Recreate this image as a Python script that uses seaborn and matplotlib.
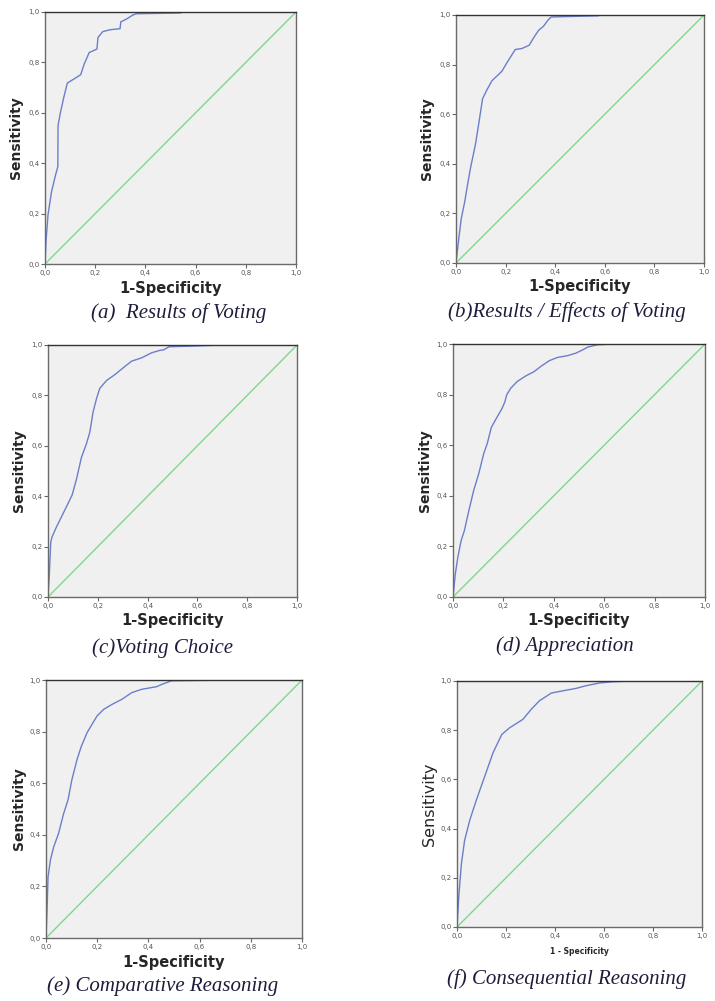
import numpy as np
import pandas as pd
import seaborn as sns
import matplotlib.pyplot as plt

# ROC curves (1-specificity, sensitivity)
fpr_a = [0, 0.004, 0.012, 0.026, 0.042, 0.051, 0.052, 0.062, 0.075, 0.089, 0.115, 0.142, 0.156,
         0.176, 0.207, 0.211, 0.23, 0.256, 0.299, 0.302, 0.323, 0.35, 0.364, 0.538, 0.55, 1.0]
tpr_a = [0, 0.09, 0.195, 0.287, 0.353, 0.386, 0.55, 0.603, 0.662, 0.718, 0.734, 0.751, 0.793,
         0.839, 0.853, 0.899, 0.922, 0.929, 0.934, 0.961, 0.971, 0.988, 0.993, 0.996, 1.0, 1.0]

fpr_b = [0, 0.011, 0.021, 0.035, 0.044, 0.058, 0.078, 0.091, 0.107, 0.125, 0.145, 0.185, 0.205,
         0.239, 0.266, 0.295, 0.313, 0.333, 0.353, 0.373, 0.384, 0.575, 0.58, 1.0]
tpr_b = [0, 0.097, 0.178, 0.246, 0.3, 0.381, 0.476, 0.557, 0.662, 0.699, 0.735, 0.773, 0.807,
         0.861, 0.865, 0.878, 0.908, 0.938, 0.955, 0.982, 0.992, 0.997, 1.0, 1.0]

fpr_c = [0, 0.005, 0.011, 0.016, 0.034, 0.054, 0.074, 0.097, 0.114, 0.134, 0.154, 0.168, 0.181,
         0.195, 0.208, 0.235, 0.268, 0.309, 0.336, 0.376, 0.416, 0.45, 0.463, 0.486, 0.59, 0.67,
         0.72, 1.0]
tpr_c = [0, 0.083, 0.217, 0.238, 0.278, 0.318, 0.358, 0.405, 0.466, 0.553, 0.607, 0.654, 0.734,
         0.788, 0.828, 0.859, 0.882, 0.915, 0.936, 0.949, 0.969, 0.979, 0.98, 0.993, 0.996, 0.999,
         1.0, 1.0]

fpr_d = [0, 0.009, 0.019, 0.032, 0.045, 0.063, 0.082, 0.102, 0.122, 0.136, 0.152, 0.168, 0.195,
         0.206, 0.213, 0.229, 0.255, 0.289, 0.322, 0.348, 0.382, 0.415, 0.455, 0.488, 0.515, 0.535,
         0.574, 0.641, 1.0]
tpr_d = [0, 0.09, 0.156, 0.222, 0.262, 0.342, 0.421, 0.487, 0.567, 0.607, 0.67, 0.699, 0.746,
         0.772, 0.799, 0.825, 0.852, 0.874, 0.891, 0.911, 0.934, 0.947, 0.954, 0.964, 0.977, 0.988,
         0.997, 1.0, 1.0]

fpr_e = [0, 0.004, 0.008, 0.017, 0.03, 0.049, 0.069, 0.086, 0.101, 0.121, 0.138, 0.16, 0.179,
         0.199, 0.225, 0.257, 0.296, 0.335, 0.374, 0.432, 0.452, 0.491, 0.66, 0.67, 1.0]
tpr_e = [0, 0.106, 0.236, 0.301, 0.353, 0.405, 0.483, 0.535, 0.613, 0.691, 0.743, 0.795, 0.827,
         0.86, 0.886, 0.905, 0.925, 0.951, 0.964, 0.974, 0.983, 0.997, 0.999, 1.0, 1.0]

fpr_f = [0, 0.008, 0.018, 0.031, 0.052, 0.079, 0.113, 0.147, 0.183, 0.215, 0.269, 0.303, 0.337,
         0.385, 0.432, 0.486, 0.527, 0.582, 0.636, 0.717, 1.0]
tpr_f = [0, 0.134, 0.257, 0.352, 0.434, 0.516, 0.612, 0.708, 0.783, 0.81, 0.844, 0.885, 0.92,
         0.951, 0.96, 0.97, 0.981, 0.992, 0.997, 1.0, 1.0]

ref_line = [0.0, 1.0]
ticks = [0.0, 0.2, 0.4, 0.6, 0.8, 1.0]
tick_labels = ["0,0", "0,2", "0,4", "0,6", "0,8", "1,0"]

captions = ["(a)  Results of Voting", "(b)Results / Effects of Voting", "(c)Voting Choice",
            "(d) Appreciation", "(e) Comparative Reasoning", "(f) Consequential Reasoning"]
xlabels = ["1-Specificity"] * 5 + ["1 - Specificity"]

curves = [(fpr_a, tpr_a), (fpr_b, tpr_b), (fpr_c, tpr_c),
          (fpr_d, tpr_d), (fpr_e, tpr_e), (fpr_f, tpr_f)]

# pixel boxes of each plot area: left, top, right, bottom
W, H = 715, 1001
boxes = [(45, 12, 296, 264), (456, 15, 704, 263),
         (48, 345, 297, 597), (453, 344, 705, 597),
         (46, 680, 302, 938), (457, 681, 702, 927)]
xlab_y = [288, 286, 620, 621, 962, 951]
ylab_x = [16, 427, 19, 425, 19, 429]
cap_xy = [(179, 313), (567, 312), (162, 648), (565, 646), (163, 986), (567, 979)]

sns.set_style("white")
fig = plt.figure(figsize=(W / 100, H / 100), dpi=100)

for i, (fx, ty) in enumerate(curves):
    l, t, r, b = boxes[i]
    ax = fig.add_axes([l / W, 1 - b / H, (r - l) / W, (b - t) / H])
    ax.set_facecolor("#f0f0f0")
    df = pd.DataFrame({"fpr": fx, "tpr": ty})
    sns.lineplot(data=df, x="fpr", y="tpr", ax=ax, color="#6b7fc9", linewidth=1.0,
                 estimator=None, sort=False)
    sns.lineplot(x=ref_line, y=ref_line, ax=ax, color="#7fd88b", linewidth=1.0,
                 estimator=None, sort=False)
    ax.set_xlim(0, 1)
    ax.set_ylim(0, 1)
    ax.set_xticks(ticks)
    ax.set_yticks(ticks)
    ax.set_xticklabels(tick_labels)
    ax.set_yticklabels(tick_labels)
    ax.tick_params(axis="both", length=3, width=0.8, color="#666666", labelsize=5,
                   labelcolor="#555555", pad=1, bottom=True, left=True)
    for sp in ax.spines.values():
        sp.set_color("#6a6a6a")
        sp.set_linewidth(1.0)
    ax.spines["top"].set_color("#333333")

    h = b - t
    w = r - l
    if i == 5:
        ax.set_xlabel(xlabels[i], fontsize=5.5, fontweight="bold", va="center")
        ax.set_ylabel("Sensitivity", fontsize=11.5, va="center")
    else:
        ax.set_xlabel(xlabels[i], fontsize=10.5, fontweight="bold", va="center")
        ax.set_ylabel("Sensitivity", fontsize=10, fontweight="bold", va="center")
    ax.xaxis.set_label_coords(0.5, -(xlab_y[i] - b) / h)
    ax.yaxis.set_label_coords(-(l - ylab_x[i]) / w, 0.5)

    cx, cy = cap_xy[i]
    fig.text(cx / W, 1 - cy / H, captions[i], ha="center", va="center",
             fontsize=15, style="italic", family="Liberation Serif", color="#1e1e3c")

fig.savefig("out.png", dpi=100)
